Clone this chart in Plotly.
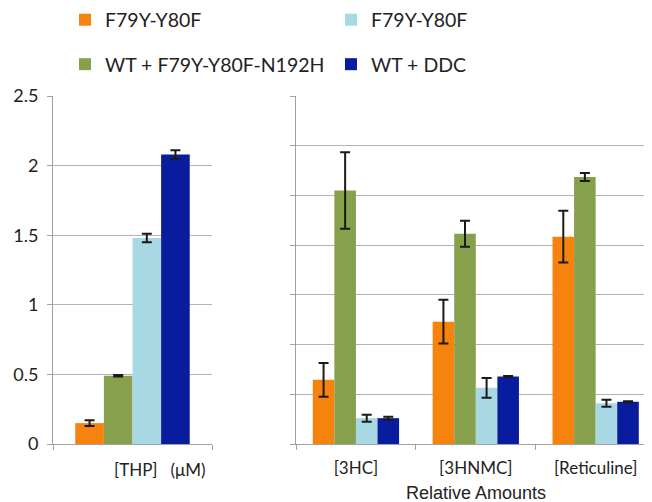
import plotly.graph_objects as go

left_cats = ["[THP]"]
right_cats = ["[3HC]", "[3HNMC]", "[Reticuline]"]

series_names = ["F79Y-Y80F", "WT + F79Y-Y80F-N192H", "F79Y-Y80F", "WT + DDC"]
series_colors = ["#F7830F", "#87A04B", "#A8D8E4", "#0A1C9E"]
legend_rows = ["legend", "legend2", "legend", "legend2"]

left_vals = [[0.15], [0.49], [1.48], [2.08]]
left_errs = [[0.02], [0.005], [0.03], [0.03]]

right_vals = [
    [1.29, 2.46, 4.17],
    [5.10, 4.23, 5.37],
    [0.52, 1.13, 0.82],
    [0.52, 1.36, 0.85],
]
right_errs = [
    [0.34, 0.44, 0.52],
    [0.77, 0.26, 0.08],
    [0.07, 0.20, 0.07],
    [0.03, 0.01, 0.01],
]
left_ticks = [0, 0.5, 1, 1.5, 2, 2.5]
left_ticktext = ["0", "0.5", "1", "1.5", "2", "2.5"]

fig = go.Figure()
for i in range(4):
    fig.add_trace(go.Bar(
        x=left_cats, y=left_vals[i], name=series_names[i],
        marker=dict(color=series_colors[i], line=dict(width=0)),
        error_y=dict(type="data", array=left_errs[i], color="#1a1a1a", thickness=2, width=5),
        xaxis="x", yaxis="y", showlegend=False, offsetgroup=str(i),
    ))
for i in range(4):
    fig.add_trace(go.Bar(
        x=right_cats, y=right_vals[i], name=series_names[i],
        marker=dict(color=series_colors[i], line=dict(width=0)),
        error_y=dict(type="data", array=right_errs[i], color="#1a1a1a", thickness=2, width=5),
        xaxis="x2", yaxis="y2", legend=legend_rows[i], offsetgroup=str(i),
    ))

# page body has an 8px default margin; work in page pixels and compensate
OFF = 8
PAGE_W, PAGE_H = 652, 502
W, H = PAGE_W - OFF, PAGE_H - OFF
left_px, right_px, top_px, bottom_px = 53, 652, 96, 444
ml = left_px - OFF
mr = W - (right_px - OFF)
mt = top_px - OFF
mb = H - (bottom_px - OFF)
pw = W - ml - mr
ph = H - mt - mb

def px_x(p):
    return (p - OFF - ml) / pw

def px_y(p):
    return 1 + (mt - (p - OFF)) / ph

grid = "#B4B4B4"
axis_common = dict(showline=True, linecolor="#A0A0A0", linewidth=1, ticks="outside",
                   tickcolor="#A0A0A0", ticklen=5, zeroline=False, automargin=False)

txt = "#222222"
legend_font = dict(family="Lato", size=19.5, color=txt)

fig.update_layout(
    width=W, height=H,
    margin=dict(l=ml, r=mr, t=mt, b=mb, autoexpand=False),
    paper_bgcolor="white", plot_bgcolor="white",
    barmode="group", bargap=0.28, bargroupgap=0,
    font=dict(family="Lato", size=17, color=txt),
    xaxis=dict(domain=[0, px_x(212)], type="category", range=[-0.5, 0.5],
               showticklabels=False, tickson="boundaries", showgrid=False, **axis_common),
    yaxis=dict(domain=[0, 1], range=[0, 2.5], tickmode="array", tickvals=left_ticks,
               ticktext=left_ticktext, showgrid=True, gridcolor=grid, gridwidth=1,
               ticklabelstandoff=5,
               tickfont=dict(family="Lato", size=18, color=txt), **axis_common),
    xaxis2=dict(domain=[px_x(296), 1], type="category", range=[-0.5, 2.47], anchor="y2",
                showticklabels=True, tickson="boundaries", showgrid=False,
                ticklabelstandoff=9,
                tickfont=dict(family="Lato", size=17, color=txt), **axis_common),
    yaxis2=dict(domain=[0, 1], range=[0, 7], dtick=1, showgrid=True, gridcolor=grid,
                gridwidth=1, showticklabels=False, anchor="x2", **axis_common),
    legend=dict(orientation="h", x=px_x(65), y=px_y(20), xanchor="left", yanchor="middle",
                entrywidth=221, font=legend_font, bgcolor="rgba(0,0,0,0)"),
    legend2=dict(orientation="h", x=px_x(65), y=px_y(64.5), xanchor="left", yanchor="middle",
                 entrywidth=221, font=legend_font, bgcolor="rgba(0,0,0,0)"),
)

fig.add_annotation(text="[THP]   (μM)", xref="paper", yref="paper", x=px_x(159.5), y=px_y(469),
                   showarrow=False, font=dict(family="Lato", size=17, color=txt),
                   xanchor="center", yanchor="middle")
fig.add_annotation(text="Relative Amounts", xref="paper", yref="paper", x=px_x(476), y=px_y(493),
                   showarrow=False, font=dict(family="Liberation Sans", size=18, color=txt),
                   xanchor="center", yanchor="middle")

fig.write_html("out.html")
